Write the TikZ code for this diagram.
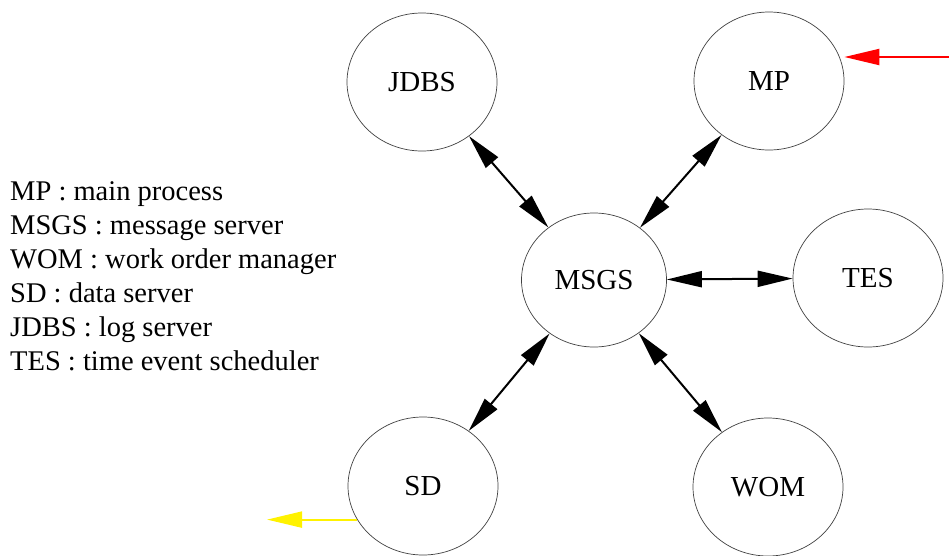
\documentclass[tikz,border=0pt]{standalone}
\usepackage{fontspec}
\setmainfont{Liberation Serif}
\usepackage{tikz}
\usetikzlibrary{arrows.meta, shapes.geometric}

\begin{document}
\begin{tikzpicture}[x=1pt, y=-1pt, >={Triangle[length=35pt, width=16pt]}]
\useasboundingbox (0,0) rectangle (949,555);
\begin{scope}[every node/.style={ellipse, draw=black!75, line width=0.7pt, minimum width=150pt, minimum height=138pt, inner sep=0pt, font=\fontsize{29}{34}\selectfont}]

    \node (MSGS) [minimum width=145pt, minimum height=134pt] at (594, 280) {MSGS};
    % top
    \node (JDBS) at (422, 82) {JDBS};
    \node (MP) at (769, 81) {MP};
    % right
    \node (TES) at (868, 278) {TES};
    % bottom
    \node (SD) at (423, 486) {SD};
    \node (WOM) at (768, 487) {WOM};
\end{scope}

% legend
\node (legend) [align=left, anchor=north west, inner sep=0pt, font=\fontsize{28.5}{34}\selectfont] at (10, 181)
    {MP : main process\\
     MSGS : message server\\
     WOM : work order manager\\
     SD : data server\\
     JDBS : log server\\
     TES : time event scheduler};

% outside ends
\coordinate (MP_in) at (949, 57);
\coordinate (SD_out) at (267, 519);

\begin{scope}[
    every edge/.style={draw=black, line width=2pt}
]
    \path [<->] (MSGS) edge (JDBS);
    \path [<->] (MSGS) edge (MP);
    \path [<->] (MSGS) edge (TES);
    \path [<->] (MSGS) edge (SD);
    \path [<->] (MSGS) edge (WOM);
    % in and out
    \path [->] (MP_in) edge [draw=red] (MP_in -| MP.east);
    \path [->] (SD.207) edge [draw=yellow] (SD.207 -| SD_out);
\end{scope}
\end{tikzpicture}
\end{document}
